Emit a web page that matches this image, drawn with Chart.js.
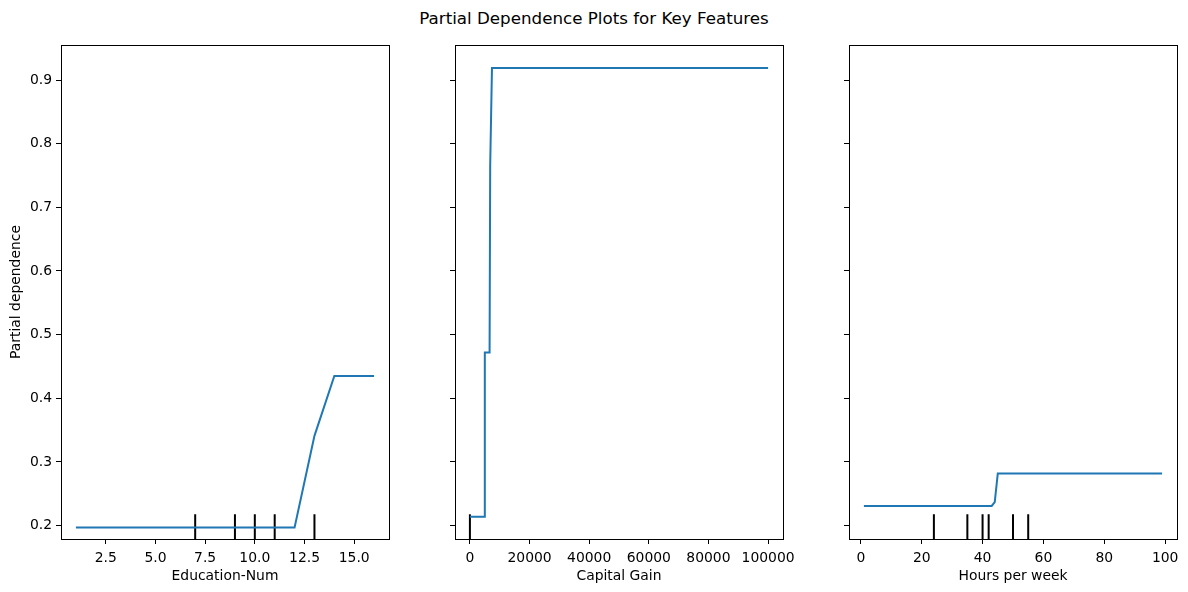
<!DOCTYPE html>
<html>
<head>
<meta charset="utf-8">
<script src="https://cdn.jsdelivr.net/npm/chart.js@4.4.1/dist/chart.umd.min.js"></script>
<style>
  body { margin: 0; background: #fff; }
  #wrap { position: relative; width: 1188px; height: 592px; }
  canvas { position: absolute; left: 0; top: 0; }
  #title { position: absolute; left: 0; top: 8px; width: 1188px; line-height: 20px; text-align: center;
           font-family: "DejaVu Sans"; font-size: 16.7px; color: #000; }
</style>
</head>
<body>
<div id="wrap">
  <div id="title">Partial Dependence Plots for Key Features</div>
  <canvas id="pdpEdu" width="1188" height="592"></canvas>
  <canvas id="pdpGain" width="1188" height="592"></canvas>
  <canvas id="pdpHours" width="1188" height="592"></canvas>
</div>
<script>
// shared y axis
const yTicks = [0.2, 0.3, 0.4, 0.5, 0.6, 0.7, 0.8, 0.9];
const Y_MIN = 0.179, Y_MAX = 0.955;

// Education-Num
const eduX = [1, 2, 3, 4, 5, 6, 7, 8, 9, 10, 11, 12, 13, 14, 15, 16];
const eduY = [0.197, 0.197, 0.197, 0.197, 0.197, 0.197, 0.197, 0.197, 0.197, 0.197, 0.197, 0.197, 0.341, 0.435, 0.435, 0.435];
const eduDeciles = [7, 9, 10, 11, 13];
const eduTicks = [2.5, 5, 7.5, 10, 12.5, 15];

// Capital Gain
const gainX = [0, 4900, 5000, 6600, 6800, 7400, 100000];
const gainY = [0.214, 0.214, 0.472, 0.472, 0.765, 0.919, 0.919];
const gainDeciles = [0];
const gainTicks = [0, 20000, 40000, 60000, 80000, 100000];

// Hours per week
const hoursX = [1, 43, 44, 45, 99];
const hoursY = [0.231, 0.231, 0.237, 0.282, 0.282];
const hoursDeciles = [24, 35, 40, 42, 50, 55];
const hoursTicks = [0, 20, 40, 60, 80, 100];

const font = { family: 'DejaVu Sans', size: 13.9 };

// matplotlib style box around the plot area
const frame = {
  id: 'frame',
  afterDraw(chart) {
    const { ctx, chartArea: a } = chart;
    ctx.save();
    ctx.strokeStyle = '#000';
    ctx.lineWidth = 1;
    ctx.strokeRect(Math.round(a.left) + 0.5, Math.round(a.top) + 0.5,
                   Math.round(a.right - a.left), Math.round(a.bottom - a.top));
    ctx.restore();
  }
};

function makePanel(id, xs, ys, deciles, xTicks, xMin, xMax, xTitle, fmt, area, showY) {
  const line = xs.map((x, i) => ({ x: x, y: ys[i] }));
  const rugTop = Y_MIN + 0.05 * (Y_MAX - Y_MIN);
  const rug = [];
  deciles.forEach(d => { rug.push({ x: d, y: Y_MIN }, { x: d, y: rugTop }, { x: d, y: null }); });
  const yW = showY ? 61 : 10;

  new Chart(document.getElementById(id), {
    type: 'line',
    data: {
      datasets: [
        { data: line, borderColor: '#1f77b4', borderWidth: 2, pointRadius: 0, tension: 0, fill: false },
        { data: rug, borderColor: '#000', borderWidth: 2, pointRadius: 0, spanGaps: false, fill: false }
      ]
    },
    options: {
      responsive: false,
      animation: false,
      events: [],
      layout: { padding: { left: area[0] - yW, right: 1188 - area[1], top: 45, bottom: 0 } },
      plugins: { legend: { display: false }, tooltip: { enabled: false } },
      scales: {
        x: {
          type: 'linear', min: xMin, max: xMax,
          afterBuildTicks: s => { s.ticks = xTicks.map(v => ({ value: v })); },
          afterFit: s => { s.height = 53; },
          ticks: { callback: fmt, color: '#000', font: font, padding: 6, maxRotation: 0, autoSkip: false },
          grid: { drawOnChartArea: false, drawTicks: true, tickLength: 5, tickColor: '#000' },
          border: { display: false },
          title: { display: true, text: xTitle, color: '#000', font: font, padding: { top: 0, bottom: 7 } }
        },
        y: {
          type: 'linear', min: Y_MIN, max: Y_MAX,
          afterBuildTicks: s => { s.ticks = yTicks.map(v => ({ value: v })); },
          afterFit: s => { s.width = yW; },
          ticks: { callback: v => v.toFixed(1), color: showY ? '#000' : 'rgba(0,0,0,0)', font: font, padding: 4 },
          grid: { drawOnChartArea: false, drawTicks: true, tickLength: 5, tickColor: '#000' },
          border: { display: false },
          title: { display: showY, text: 'Partial dependence', color: '#000', font: font, padding: { top: 8, bottom: 0 } }
        }
      }
    },
    plugins: [frame]
  });
}

makePanel('pdpEdu', eduX, eduY, eduDeciles, eduTicks, 0.25, 16.75, 'Education-Num', v => v.toFixed(1), [61, 389], true);
makePanel('pdpGain', gainX, gainY, gainDeciles, gainTicks, -5000, 105000, 'Capital Gain', v => String(v), [455, 783], false);
makePanel('pdpHours', hoursX, hoursY, hoursDeciles, hoursTicks, -3.9, 103.9, 'Hours per week', v => String(v), [849, 1177], false);
</script>
</body>
</html>
